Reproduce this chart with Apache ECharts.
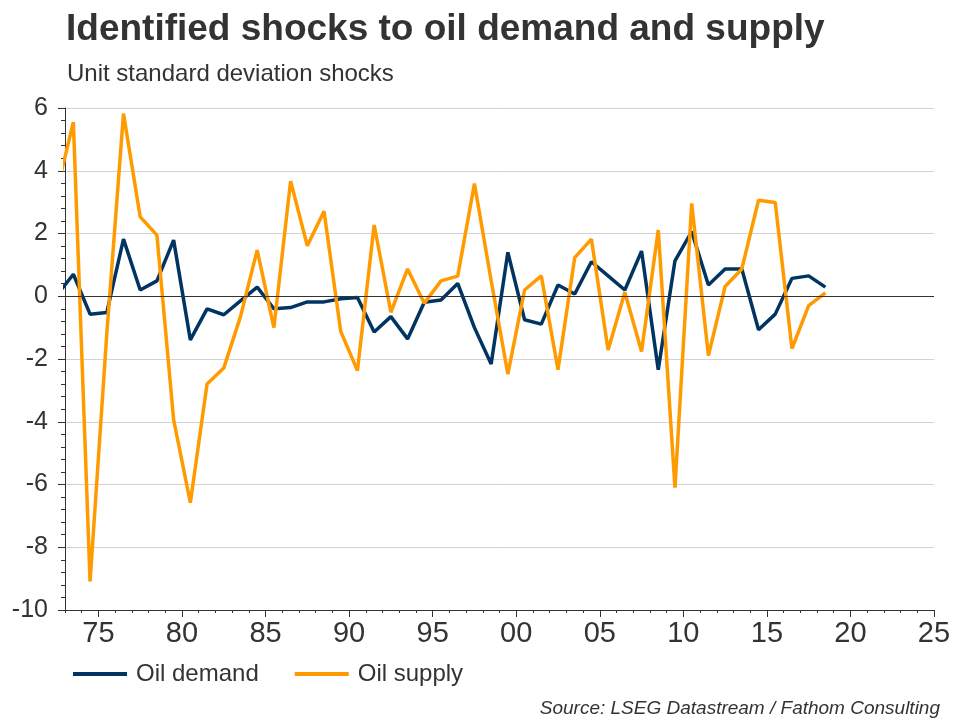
<!DOCTYPE html>
<html>
<head>
<meta charset="utf-8">
<script src="https://cdn.jsdelivr.net/npm/echarts@6/dist/echarts.min.js"></script>
<style>
  html, body { margin: 0; padding: 0; background: #fff; }
  #chart { width: 960px; height: 720px; }
</style>
</head>
<body>
<div id="chart"></div>
<script>
// Annual observations (plotted at mid-year). 1972 lies off the left edge and is clipped.
const years = [1972, 1973, 1974, 1975, 1976, 1977, 1978, 1979, 1980, 1981,
  1982, 1983, 1984, 1985, 1986, 1987, 1988, 1989, 1990, 1991,
  1992, 1993, 1994, 1995, 1996, 1997, 1998, 1999, 2000, 2001,
  2002, 2003, 2004, 2005, 2006, 2007, 2008, 2009, 2010, 2011,
  2012, 2013, 2014, 2015, 2016, 2017, 2018];

const oilDemand = [0.02, 0.70, -0.57, -0.52, 1.82, 0.20, 0.49, 1.79, -1.39, -0.40,
  -0.59, -0.15, 0.29, -0.40, -0.36, -0.18, -0.18, -0.08, -0.04, -1.14,
  -0.65, -1.36, -0.19, -0.12, 0.41, -1.00, -2.16, 1.40, -0.75, -0.89,
  0.36, 0.07, 1.10, 0.65, 0.20, 1.44, -2.34, 1.13, 2.06, 0.36,
  0.87, 0.87, -1.07, -0.57, 0.57, 0.65, 0.29];

const oilSupply = [3.33, 5.55, -9.09, -1.20, 5.82, 2.53, 1.95, -3.93, -6.58, -2.80,
  -2.29, -0.65, 1.47, -1.00, 3.67, 1.61, 2.71, -1.12, -2.37, 2.27,
  -0.51, 0.87, -0.22, 0.49, 0.64, 3.59, 0.50, -2.48, 0.20, 0.65,
  -2.34, 1.23, 1.82, -1.71, 0.13, -1.76, 2.11, -6.10, 2.96, -1.89,
  0.31, 0.87, 3.06, 2.99, -1.67, -0.30, 0.11];

const xMajorTicks = [1975, 1980, 1985, 1990, 1995, 2000, 2005, 2010, 2015, 2020, 2025];
const xMin = 1973, xMax = 2025;
const yMin = -10, yMax = 6, yStep = 2;

const seriesNames = ['Oil demand', 'Oil supply'];
const colors = ['#003462', '#FF9B00'];

const xMinorTicks = [];
for (let y = xMin; y <= xMax; y++) xMinorTicks.push(y);

const toPairs = vals => vals.map((v, i) => [years[i] + 0.5, v]);

const FONT = "'Liberation Sans', Arial, Helvetica, sans-serif";
const TXT = '#333333';

const chart = echarts.init(document.getElementById('chart'), null, { renderer: 'canvas' });
chart.setOption({
  animation: false,
  backgroundColor: '#ffffff',
  textStyle: { fontFamily: FONT },
  title: [
    { text: 'Identified shocks to oil demand and supply', left: 61, top: 6,
      textStyle: { fontFamily: FONT, fontSize: 37, fontWeight: 'bold', color: TXT } },
    { text: 'Unit standard deviation shocks', left: 62, top: 57,
      textStyle: { fontFamily: FONT, fontSize: 24, fontWeight: 'normal', color: TXT } },
    { text: 'Source: LSEG Datastream / Fathom Consulting', right: 15, top: 694,
      textStyle: { fontFamily: FONT, fontSize: 19, fontStyle: 'italic', fontWeight: 'normal', color: TXT } }
  ],
  legend: {
    left: 73, top: 662, padding: 0,
    itemWidth: 54, itemHeight: 4, itemGap: 36, icon: 'rect',
    textStyle: { fontFamily: FONT, fontSize: 24, color: TXT, padding: [0, 0, 0, 4] },
    data: seriesNames
  },
  grid: { left: 65, right: 26, top: 108, bottom: 110, containLabel: false },
  xAxis: [
    {
      type: 'value', min: xMin, max: xMax, position: 'bottom',
      axisLine: { show: true, onZero: false, lineStyle: { color: '#333', width: 1 } },
      axisTick: { show: true, length: 7, customValues: xMajorTicks, lineStyle: { color: '#333' } },
      axisLabel: { show: true, customValues: xMajorTicks, margin: 9, fontSize: 29, color: TXT, fontFamily: FONT,
        formatter: v => String(v).slice(2) },
      splitLine: { show: false }
    },
    {
      type: 'value', min: xMin, max: xMax, position: 'bottom',
      axisLine: { show: false, onZero: false },
      axisTick: { show: true, length: 3, customValues: xMinorTicks, lineStyle: { color: '#333' } },
      axisLabel: { show: false },
      splitLine: { show: false }
    }
  ],
  yAxis: {
    type: 'value', min: yMin, max: yMax, interval: yStep,
    axisLine: { show: true, onZero: false, lineStyle: { color: '#333', width: 1 } },
    axisTick: { show: true, length: 7, lineStyle: { color: '#333' } },
    minorTick: { show: true, splitNumber: 5, length: 4, lineStyle: { color: '#333' } },
    axisLabel: { margin: 17, fontSize: 25, color: TXT, fontFamily: FONT },
    splitLine: { show: true, lineStyle: { color: '#d3d3d3', width: 1 } },
    minorSplitLine: { show: false }
  },
  series: [
    {
      name: seriesNames[0], type: 'line', xAxisIndex: 0, data: toPairs(oilDemand),
      symbol: 'none', clip: true, color: colors[0],
      lineStyle: { color: colors[0], width: 3.5 },
      markLine: {
        silent: true, symbol: 'none', label: { show: false },
        lineStyle: { color: '#333', width: 1, type: 'solid' },
        data: [{ yAxis: 0 }]
      },
      z: 2
    },
    {
      name: seriesNames[1], type: 'line', xAxisIndex: 0, data: toPairs(oilSupply),
      symbol: 'none', clip: true, color: colors[1],
      lineStyle: { color: colors[1], width: 3.5 },
      z: 3
    }
  ]
});
</script>
</body>
</html>
